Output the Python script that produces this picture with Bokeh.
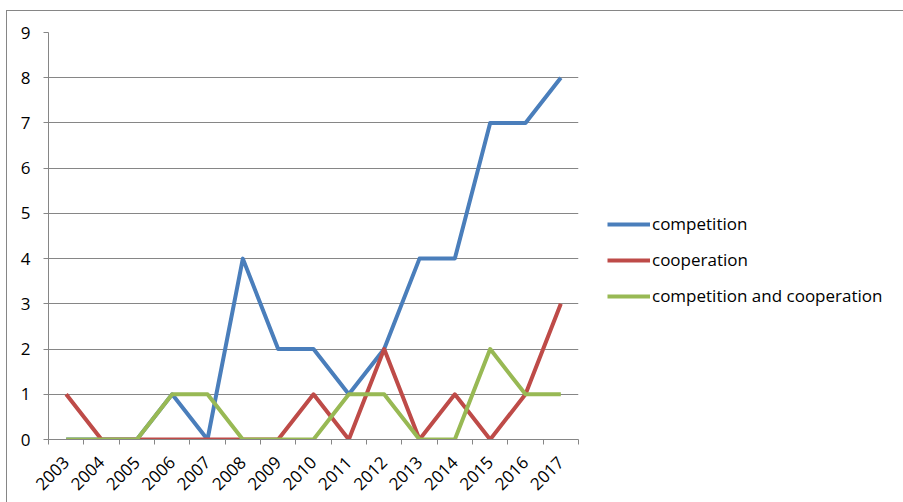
from bokeh.plotting import figure
from bokeh.models import (Range1d, FixedTicker, Legend, LegendItem)
from bokeh.embed import file_html
from bokeh.resources import INLINE
import math

years = ["2003", "2004", "2005", "2006", "2007", "2008", "2009", "2010",
         "2011", "2012", "2013", "2014", "2015", "2016", "2017"]
competition = [0, 0, 0, 1, 0, 4, 2, 2, 1, 2, 4, 4, 7, 7, 8]
cooperation = [1, 0, 0, 0, 0, 0, 0, 1, 0, 2, 0, 1, 0, 1, 3]
both = [0, 0, 0, 1, 1, 0, 0, 0, 1, 1, 0, 0, 2, 1, 1]
series_names = ["competition", "cooperation", "competition and cooperation"]
y_ticks = [0, 1, 2, 3, 4, 5, 6, 7, 8, 9]

colors = ["#4A7EBB", "#BE4B48", "#98B954"]
FONT = "Open Sans"
GRAY = "#868686"

xs = [i + 0.5 for i in range(len(years))]

p = figure(frame_width=530, frame_height=407, output_backend="svg", toolbar_location=None,
           x_range=Range1d(0, len(years)), y_range=Range1d(0, 9),
           min_border_left=41, min_border_right=0, min_border_top=21,
           min_border_bottom=63)
p.outline_line_color = None
p.margin = (10, 0, 0, 6)
p.styles = {"border-left": "1px solid #868686", "border-top": "1px solid #868686"}

# axes
p.xaxis.ticker = FixedTicker(ticks=xs, minor_ticks=list(range(len(years) + 1)))
p.xaxis.major_label_overrides = {x: y for x, y in zip(xs, years)}
p.xaxis.major_tick_out = 0
p.xaxis.major_tick_in = 0
p.xaxis.minor_tick_out = 5
p.xaxis.minor_tick_in = 0
p.xaxis.minor_tick_line_color = GRAY
p.xaxis.axis_line_color = GRAY
p.xaxis.major_label_orientation = math.pi / 4
p.xaxis.major_label_text_font = FONT
p.xaxis.major_label_text_font_size = "17px"
p.xaxis.major_label_text_color = "#000000"
p.xaxis.major_label_standoff = 15

p.yaxis.ticker = FixedTicker(ticks=y_ticks, minor_ticks=[])
p.yaxis.major_tick_out = 5
p.yaxis.major_tick_in = 0
p.yaxis.major_tick_line_color = GRAY
p.yaxis.axis_line_color = GRAY
p.yaxis.major_label_text_font = FONT
p.yaxis.major_label_text_font_size = "17px"
p.yaxis.major_label_text_color = "#000000"
p.yaxis.major_label_standoff = 13

p.xgrid.grid_line_color = None
p.ygrid.grid_line_color = GRAY
p.ygrid.grid_line_width = 1

renderers = []
for vals, c in zip([competition, cooperation, both], colors):
    r = p.line(xs, vals, line_color=c, line_width=4, line_join="round")
    renderers.append(r)

legend = Legend(items=[LegendItem(label=n, renderers=[r]) for n, r in zip(series_names, renderers)],
                location=(29, 132), orientation="vertical")
legend.background_fill_alpha = 0
legend.border_line_color = None
legend.padding = 0
legend.margin = 0
legend.spacing = 13
legend.glyph_width = 43
legend.glyph_height = 20
legend.label_height = 20
legend.label_standoff = 2
legend.label_text_font = FONT
legend.label_text_font_size = "17px"
legend.label_text_color = "#000000"
p.add_layout(legend, "right")

open("out.html", "w").write(file_html(p, INLINE))
